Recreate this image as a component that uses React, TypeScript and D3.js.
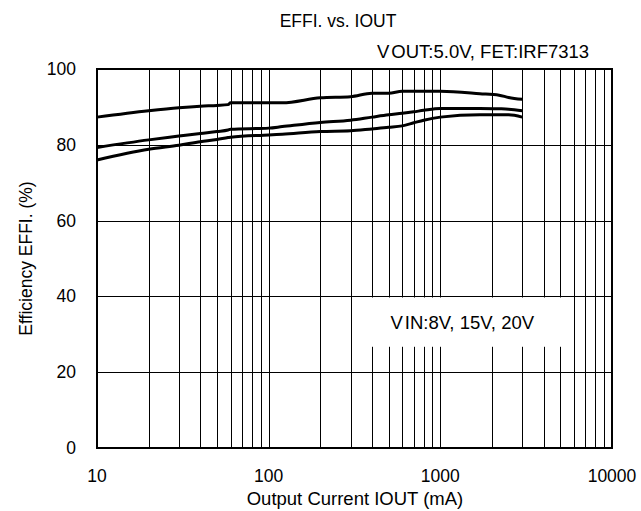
import React from "react";
import * as d3 from "d3";

const IOUT = [10, 20, 30, 40, 50, 58, 60, 100, 120, 200, 300, 400, 500, 600, 700, 800, 1000, 1700, 2200, 2500, 3000];
const VIN8 = [87.3, 89.0, 89.8, 90.2, 90.4, 90.6, 91.1, 91.1, 91.1, 92.4, 92.7, 93.6, 93.6, 94.1, 94.1, 94.1, 94.1, 93.5, 93.1, 92.5, 92.0];
const VIN15 = [79.3, 81.3, 82.3, 83.0, 83.5, 83.9, 84.1, 84.4, 84.8, 85.9, 86.5, 87.3, 87.9, 88.3, 88.7, 89.1, 89.6, 89.6, 89.5, 89.4, 89.0];
const VIN20 = [76.0, 78.8, 79.9, 80.8, 81.4, 81.9, 82.0, 82.6, 82.8, 83.5, 83.7, 84.2, 84.6, 85.0, 85.8, 86.5, 87.3, 87.9, 87.9, 87.9, 87.3];
const SERIES = [VIN8, VIN15, VIN20];

const X_TICKS = [10, 100, 1000, 10000];
const Y_TICKS = [0, 20, 40, 60, 80, 100];
const BOX_X = [300, 6000];
const BOX_Y = [40, 26.6];

const W = 641;
const H = 511;
const M = { left: 97, right: 612, top: 69, bottom: 448 };

export default function App() {
  const x = d3.scaleLog().domain([10, 10000]).range([M.left, M.right]);
  const y = d3.scaleLinear().domain([0, 100]).range([M.bottom, M.top]);

  const minor: number[] = [];
  for (let dec = 10; dec < 10000; dec *= 10) {
    for (let k = 1; k < 10; k++) {
      const v = dec * k;
      if (v > 10 && v < 10000) minor.push(v);
    }
  }

  const line = d3
    .line<number>()
    .x((_, i) => x(IOUT[i]))
    .y((d) => y(d))
    .curve(d3.curveMonotoneX);

  const font = "'Liberation Sans', Arial, sans-serif";

  return (
    <svg width={W} height={H} style={{ position: "absolute", left: 0, top: 0, background: "#fff" }} fontFamily={font}>
      <rect x={0} y={0} width={W} height={H} fill="#fff" />
      {minor.map((v) => (
        <line key={"v" + v} x1={Math.round(x(v)) + 0.5} x2={Math.round(x(v)) + 0.5} y1={M.top} y2={M.bottom} stroke="#000" strokeWidth={1} />
      ))}
      {Y_TICKS.filter((t) => t > 0 && t < 100).map((t) => (
        <line key={"h" + t} x1={M.left} x2={M.right} y1={Math.round(y(t)) + 0.5} y2={Math.round(y(t)) + 0.5} stroke="#000" strokeWidth={1} />
      ))}
      <rect
        x={Math.round(x(BOX_X[0])) + 1.5}
        y={Math.round(y(BOX_Y[0])) + 1.5}
        width={Math.round(x(BOX_X[1])) - Math.round(x(BOX_X[0])) - 2}
        height={y(BOX_Y[1]) - y(BOX_Y[0]) - 1.5}
        fill="#fff"
      />
      <text x={(x(BOX_X[0]) + x(BOX_X[1])) / 2} y={(y(BOX_Y[0]) + y(BOX_Y[1])) / 2 + 7} textAnchor="middle" fontSize={18.5} fill="#000">
        V<tspan dx={2}>IN:8V, 15V, 20V</tspan>
      </text>
      <rect x={M.left} y={M.top} width={M.right - M.left} height={M.bottom - M.top} fill="none" stroke="#000" strokeWidth={2} />
      {SERIES.map((s, i) => (
        <path key={"s" + i} d={line(s) || ""} fill="none" stroke="#000" strokeWidth={3} strokeLinejoin="round" />
      ))}
      {Y_TICKS.map((t) => (
        <text key={"yt" + t} x={76} y={y(t) + 6} textAnchor="end" fontSize={17.5} fill="#000">
          {t}
        </text>
      ))}
      {X_TICKS.map((t) => (
        <text key={"xt" + t} x={x(t)} y={482} textAnchor="middle" fontSize={17.5} fill="#000">
          {t}
        </text>
      ))}
      <text x={355} y={505} textAnchor="middle" fontSize={18.5} fill="#000">
        Output Current IOUT (mA)
      </text>
      <text transform={`translate(32, ${(M.top + M.bottom) / 2}) rotate(-90)`} textAnchor="middle" fontSize={17.5} fill="#000">
        Efficiency EFFI. (%)
      </text>
      <text x={338} y={27} textAnchor="middle" fontSize={17.5} fill="#000">
        EFFI. vs. IOUT
      </text>
      <text x={377} y={58} textAnchor="start" fontSize={18.5} fill="#000">
        V<tspan dx={2}>OUT:5.0V, FET:IRF7313</tspan>
      </text>
    </svg>
  );
}
